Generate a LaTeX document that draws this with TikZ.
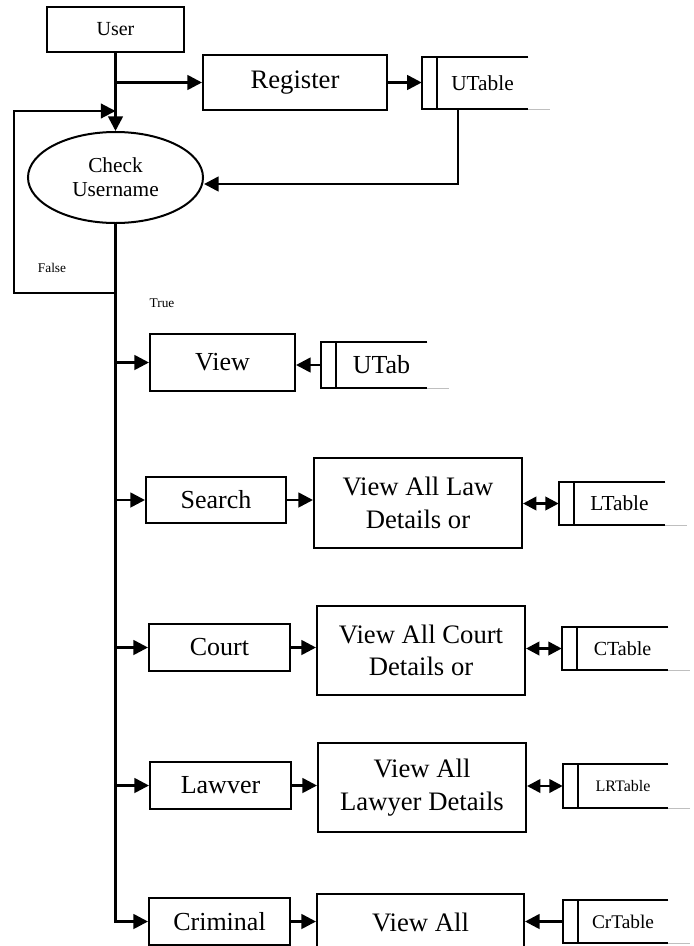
\documentclass[tikz,border=0pt]{standalone}
\usepackage{fontspec}
\setmainfont{Liberation Serif}
\usetikzlibrary{arrows.meta,shapes.geometric}
\newlength\upx
\setlength\upx{0.75pt}
% data store: open-ended box with a narrow left compartment
\newcommand\drawstore[1]{%
  \draw[line width=1.5pt] (#1.north east) -- (#1.north west) -- (#1.south west) -- (#1.south east);
  \draw[line width=1.5pt] ([xshift=15\upx]#1.north west) -- ([xshift=15\upx]#1.south west);
  \draw[black!25,line width=0.75pt] (#1.south east) -- ++(22,0);}
\begin{document}
\begin{tikzpicture}[x=0.75pt,y=-0.75pt,
  box/.style={draw,line width=1.5pt,rectangle,inner sep=0pt,align=center},
  store/.style={rectangle,inner sep=0pt},
  ln/.style={line width=1.6pt},
  arr/.style={line width=2pt,-{Triangle[length=11pt,width=11pt]}},
  darr/.style={line width=2pt,{Triangle[length=10pt,width=10pt]}-{Triangle[length=10pt,width=10pt]}},
  fbig/.style={font=\fontsize{19.5}{24.5}\selectfont},
  fmid/.style={font=\fontsize{16}{18}\selectfont},
  fsmall/.style={font=\fontsize{10}{12}\selectfont}]
\useasboundingbox (0,0) rectangle (693,946);
\clip (0,0) rectangle (693,946);

% top: user, registration and login check
\node[box,fmid,font=\fontsize{15}{18}\selectfont,minimum width=137\upx,minimum height=45\upx] (user) at (115.5,29.5) {User};
\node[box,fbig,font=\fontsize{20}{24}\selectfont,minimum width=184\upx,minimum height=55\upx] (register) at (295,82.5) {Register};
\node[store,fmid,minimum width=106\upx,minimum height=52\upx] (utable) at (475,83) {\hspace*{15\upx}UTable};
\node[ellipse,draw,line width=1.5pt,inner sep=0pt,align=center,fmid,minimum width=175\upx,minimum height=91\upx] (check) at (115.5,177.5) {Check\\Username};

% menu entries
\node[box,fbig,minimum width=145\upx,minimum height=57\upx] (view) at (222.5,362.5) {View};
\node[store,fbig,minimum width=106\upx,minimum height=46\upx] (utab) at (374,365) {\hspace*{15\upx}UTab};

\node[box,fbig,minimum width=140\upx,minimum height=46\upx] (search) at (216,500) {Search};
\node[box,fbig,font=\fontsize{20}{24.5}\selectfont,minimum width=208\upx,minimum height=90\upx] (lawdet) at (418,503) {View All Law\\Details or};
\node[store,fmid,minimum width=106\upx,minimum height=43\upx] (ltable) at (612,503.5) {\hspace*{15\upx}LTable};

\node[box,fbig,minimum width=141\upx,minimum height=47\upx] (court) at (219.5,647.5) {Court};
\node[box,fbig,font=\fontsize{20}{24.5}\selectfont,minimum width=208\upx,minimum height=89\upx] (courtdet) at (421,650.5) {View All Court\\Details or};
\node[store,font=\fontsize{15}{18}\selectfont,minimum width=106\upx,minimum height=43\upx] (ctable) at (615,648.5) {\hspace*{15\upx}CTable};

\node[box,fbig,minimum width=141\upx,minimum height=47\upx] (lawyer) at (220.5,785.5) {Lawver};
\node[box,fbig,font=\fontsize{20}{24.5}\selectfont,minimum width=208\upx,minimum height=89\upx] (lawyerdet) at (422,787.5) {View All\\Lawyer Details};
\node[store,font=\fontsize{12}{14}\selectfont,minimum width=105\upx,minimum height=44\upx] (lrtable) at (615.5,786) {\hspace*{15\upx}LRTable};

\node[box,fbig,minimum width=141\upx,minimum height=47\upx] (criminal) at (219.5,921.5) {Criminal};
\node[box,fbig,font=\fontsize{20}{24.5}\selectfont,minimum width=207\upx,minimum height=89\upx,text depth=24pt] (crimdet) at (420.5,938.5) {View All};
\node[store,font=\fontsize{14.5}{17}\selectfont,minimum width=105\upx,minimum height=43\upx] (crtable) at (615.5,921.5) {\hspace*{15\upx}CrTable};

\foreach \s in {utable,utab,ltable,ctable,lrtable,crtable} {\drawstore{\s}}

% branch labels
\node[fsmall] (lfalse) at (52,268) {False};
\node[fsmall] (ltrue) at (162,303) {True};

% flow from user to the check
\draw[arr] (user.south) -- (check.north);
\draw[arr] (user.south |- register.west) -- (register.west);
\draw[arr] (register.east) -- (register.east -| utable.west);
\coordinate (ret) at (458,184);
\draw[arr] (ret |- utable.south) -- (ret) -- (ret -| check.east);

% false: back to the check
\coordinate (fork) at (115.5,293);
\coordinate (lp1) at (14,293);
\coordinate (lp2) at (14,111);
\draw[ln,-{Triangle[length=11pt,width=11pt]}] (fork) -- (lp1) -- (lp2) -- (lp2 -| user.south);

% true: trunk to all menu entries
\draw[arr] (check.south) -- (check.south |- criminal.west) -- (criminal.west);
\foreach \n in {view,search,court,lawyer} {\draw[arr] (check.south |- \n.west) -- (\n.west);}

% entries to their details and tables
\draw[arr] (utab.west) -- (utab.west -| view.east);
\draw[arr] (search.east) -- (search.east -| lawdet.west);
\draw[arr] (court.east) -- (court.east -| courtdet.west);
\draw[arr] (lawyer.east) -- (lawyer.east -| lawyerdet.west);
\draw[arr] (criminal.east) -- (criminal.east -| crimdet.west);
\draw[darr] (lawdet.east |- ltable.west) -- (ltable.west);
\draw[darr] (courtdet.east |- ctable.west) -- (ctable.west);
\draw[darr] (lawyerdet.east |- lrtable.west) -- (lrtable.west);
\draw[arr] (crtable.west) -- (crtable.west -| crimdet.east);
\end{tikzpicture}
\end{document}
